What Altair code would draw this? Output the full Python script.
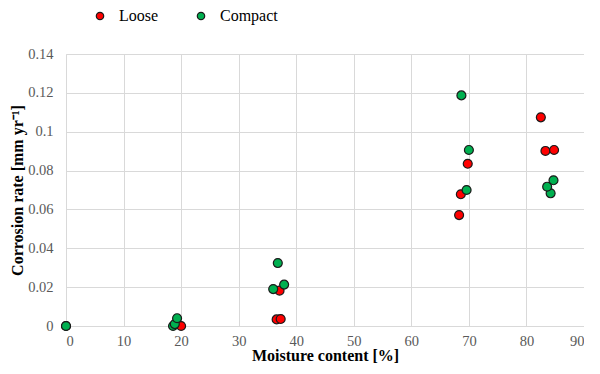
import altair as alt
import pandas as pd

loose_x = [0, 20.0, 36.6, 37.3, 37.1, 68.3, 68.6, 69.8, 82.5, 83.3, 84.8]
loose_y = [0, 0.0, 0.0034, 0.0036, 0.0182, 0.0571, 0.0678, 0.0835, 0.1074, 0.0901, 0.0906]
compact_x = [0, 18.6, 18.9, 19.3, 36.0, 37.9, 36.8, 69.6, 70.0, 68.7, 84.2, 83.6, 84.7]
compact_y = [0, 0.0, 0.001, 0.004, 0.019, 0.0213, 0.0324, 0.070, 0.0906, 0.1187, 0.0683, 0.0717, 0.075]

series = ["Loose", "Compact"]
colors = ["#ff0000", "#00b050"]
x_ticks = [0, 10, 20, 30, 40, 50, 60, 70, 80, 90]
y_ticks = [0, 0.02, 0.04, 0.06, 0.08, 0.1, 0.12, 0.14]

rows = []
for x, y in zip(loose_x, loose_y):
    rows.append({"m": x, "r": y, "s": "Loose", "o": 0})
for x, y in zip(compact_x, compact_y):
    rows.append({"m": x, "r": y, "s": "Compact", "o": 1})
df = pd.DataFrame(rows)

FONT = "Liberation Serif"

chart = alt.Chart(df).mark_circle(
    size=80, opacity=1, stroke="#1a1a1a", strokeWidth=1.2
).encode(
    x=alt.X("m:Q", scale=alt.Scale(domain=[0, 90], nice=False),
            axis=alt.Axis(values=x_ticks, title="Moisture content [%]",
                          labelPadding=8, titlePadding=0)),
    y=alt.Y("r:Q", scale=alt.Scale(domain=[0, 0.14], nice=False),
            axis=alt.Axis(values=y_ticks, format="~g", title="Corrosion rate [mm yr⁻¹]",
                          labelPadding=13, titlePadding=2)),
    color=alt.Color("s:N", scale=alt.Scale(domain=series, range=colors),
                    legend=alt.Legend(title=None, orient="none", direction="horizontal",
                                      legendX=26, legendY=-46, symbolSize=55,
                                      symbolStrokeColor="#1a1a1a", symbolStrokeWidth=1.2,
                                      labelFont=FONT, labelFontSize=16, labelColor="#000000",
                                      labelOffset=11, columnPadding=34, labelLimit=200,
                                      symbolType="circle")),
    order=alt.Order("o:Q"),
).properties(
    width=518, height=272,
    autosize=alt.AutoSizeParams(type="none"),
    padding={"left": 58, "top": 46, "right": 0, "bottom": 40},
).configure_view(stroke=None).configure_axis(
    labelFont=FONT, labelFontSize=14.5, labelColor="#595959",
    titleFont=FONT, titleFontSize=16, titleFontWeight="bold", titleColor="#000000",
    gridColor="#d9d9d9", gridWidth=1, domainColor="#d9d9d9", ticks=False,
)

chart.save("out.html", embed_options={"renderer": "svg", "actions": False})
